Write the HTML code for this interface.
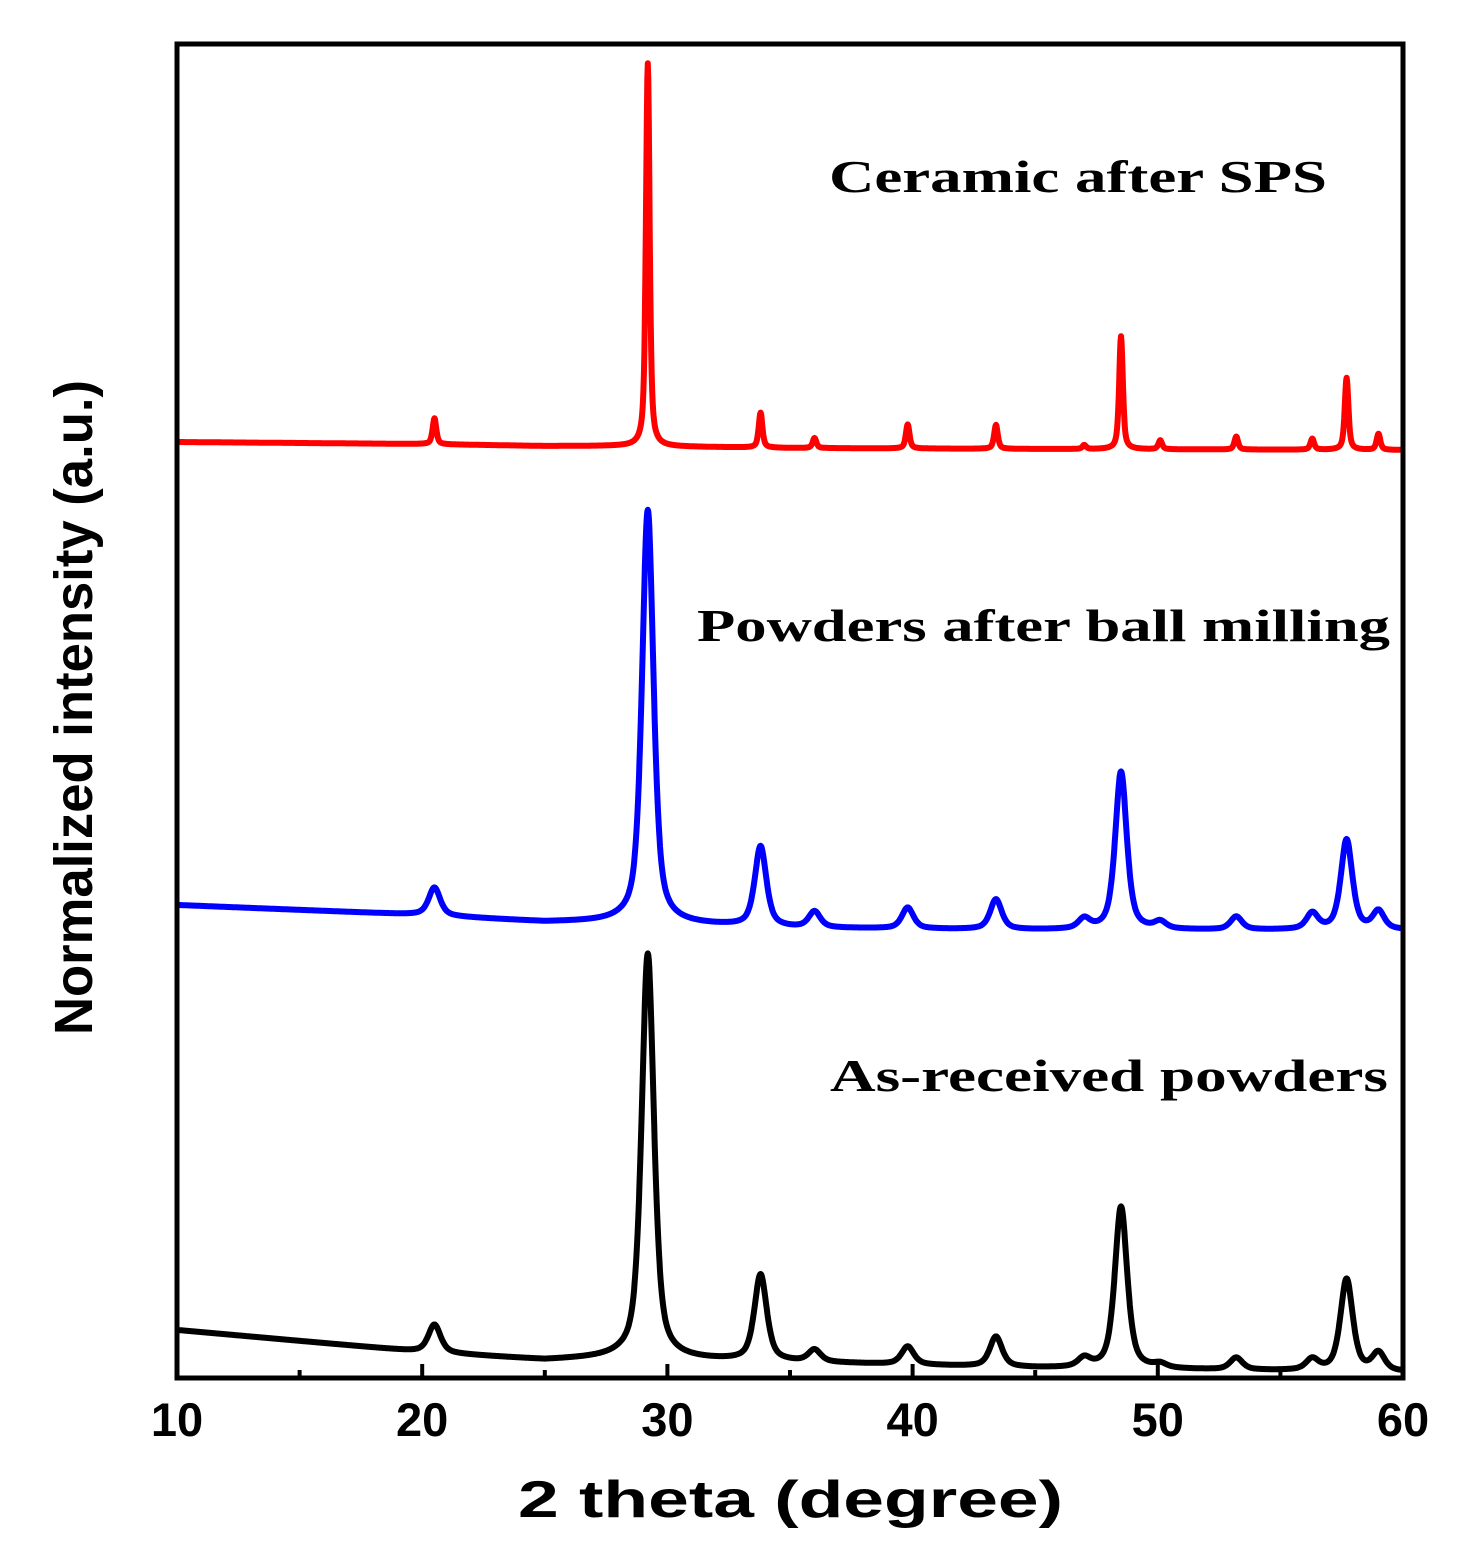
<!DOCTYPE html>
<html><head><meta charset="utf-8"><style>
html,body{margin:0;padding:0;background:#fff;}
svg{display:block;}
</style></head><body>
<svg id="chart" width="1465" height="1553" viewBox="0 0 1465 1553" xmlns="http://www.w3.org/2000/svg">
<g id="series"></g>
<rect x="177" y="44" width="1226" height="1334" fill="none" stroke="#000" stroke-width="5"/>
<g id="ticks"></g>
<text x="829" y="192" font-family="Liberation Serif, serif" font-weight="bold" font-size="46" textLength="498" lengthAdjust="spacingAndGlyphs">Ceramic after SPS</text>
<text x="697" y="641" font-family="Liberation Serif, serif" font-weight="bold" font-size="46" textLength="693" lengthAdjust="spacingAndGlyphs">Powders after ball milling</text>
<text x="830" y="1091" font-family="Liberation Serif, serif" font-weight="bold" font-size="46" textLength="558" lengthAdjust="spacingAndGlyphs">As-received powders</text>
<text x="518" y="1517" font-family="Liberation Sans, sans-serif" font-weight="bold" font-size="52" textLength="545" lengthAdjust="spacingAndGlyphs">2 theta (degree)</text>
<text transform="translate(92,1035) rotate(-90)" font-family="Liberation Sans, sans-serif" font-weight="bold" font-size="54" textLength="655" lengthAdjust="spacingAndGlyphs">Normalized intensity (a.u.)</text>
</svg>
<script>
const xTicks = [10, 20, 30, 40, 50, 60];
const xMinorTicks = [15, 25, 35, 45, 55];
const peakPositions = [20.5, 29.2, 33.8, 36.0, 39.8, 43.4, 47.0, 48.5, 50.1, 53.2, 56.3, 57.7, 59.0];
// peak heights above baseline (a.u., pixel-equivalent units)
const redHeights = [26, 383, 35, 10, 24, 24, 4, 113, 9, 13, 11, 72, 16];
const blueHeights = [28, 413, 80, 16, 21, 30, 10, 158, 7, 13, 16, 90, 18];
const blackHeights = [28, 405, 86, 12, 18, 30, 9, 162, 4, 12, 11, 92, 18];
const baseX = [10, 15, 20, 25, 28, 35, 45, 60];
const redBase = [938, 937, 936, 934, 934, 932, 931, 930];
const blueBase = [475, 470, 465, 458, 458, 452, 450, 450];
const blackBase = [50, 39, 28, 20, 22, 18, 12, 8];
const redWidth = 0.09, blueWidth = 0.28, blackWidth = 0.3;

const X0 = 177, X1 = 1403, Y0 = 1380;
function xs(v){ return X0 + (v - 10) / 50 * (X1 - X0); }
function ys(v){ return Y0 - v; }
function baseAt(arr, x){
  for (let i = 0; i < baseX.length - 1; i++) {
    if (x <= baseX[i+1]) { const t = (x - baseX[i]) / (baseX[i+1] - baseX[i]); return arr[i] + t * (arr[i+1] - arr[i]); }
  }
  return arr[arr.length - 1];
}
function valueAt(base, heights, w, x){
  let v = baseAt(base, x);
  for (let i = 0; i < peakPositions.length; i++) {
    const d = (x - peakPositions[i]) / w;
    v += heights[i] * (0.6 / (1 + d*d) + 0.4 * Math.exp(-d*d*0.7));
  }
  return v;
}
const NS = 'http://www.w3.org/2000/svg';
const sg = document.getElementById('series');
function drawSeries(name, base, heights, w, color){
  let d = '';
  for (let x = 10; x <= 60.0001; x += 0.02) {
    d += (d ? 'L' : 'M') + xs(x).toFixed(1) + ',' + ys(valueAt(base, heights, w, x)).toFixed(1);
  }
  const p = document.createElementNS(NS, 'path');
  p.setAttribute('d', d);
  p.setAttribute('fill', 'none');
  p.setAttribute('stroke', color);
  p.setAttribute('stroke-width', '6');
  p.setAttribute('stroke-linejoin', 'round');
  
  
  sg.appendChild(p);
}
drawSeries('series-ceramic-after-sps', redBase, redHeights, redWidth, '#ff0000');
drawSeries('series-powders-ball-milling', blueBase, blueHeights, blueWidth, '#0000ff');
drawSeries('series-as-received', blackBase, blackHeights, blackWidth, '#000000');

const tg = document.getElementById('ticks');
xTicks.forEach(t => {
  const l = document.createElementNS(NS, 'line');
  l.setAttribute('x1', xs(t)); l.setAttribute('x2', xs(t));
  l.setAttribute('y1', 1378); l.setAttribute('y2', 1364);
  l.setAttribute('stroke', '#000'); l.setAttribute('stroke-width', '4');
  
  
  tg.appendChild(l);
  const tx = document.createElementNS(NS, 'text');
  tx.setAttribute('x', xs(t)); tx.setAttribute('y', 1436);
  tx.setAttribute('text-anchor', 'middle');
  tx.setAttribute('font-family', 'Liberation Sans, sans-serif');
  tx.setAttribute('font-weight', 'bold');
  tx.setAttribute('font-size', '47');
  tx.textContent = t;
  
  
  tg.appendChild(tx);
});
xMinorTicks.forEach(t => {
  const l = document.createElementNS(NS, 'line');
  l.setAttribute('x1', xs(t)); l.setAttribute('x2', xs(t));
  l.setAttribute('y1', 1378); l.setAttribute('y2', 1370);
  l.setAttribute('stroke', '#000'); l.setAttribute('stroke-width', '4');
  
  
  tg.appendChild(l);
});
</script>
</body></html>
